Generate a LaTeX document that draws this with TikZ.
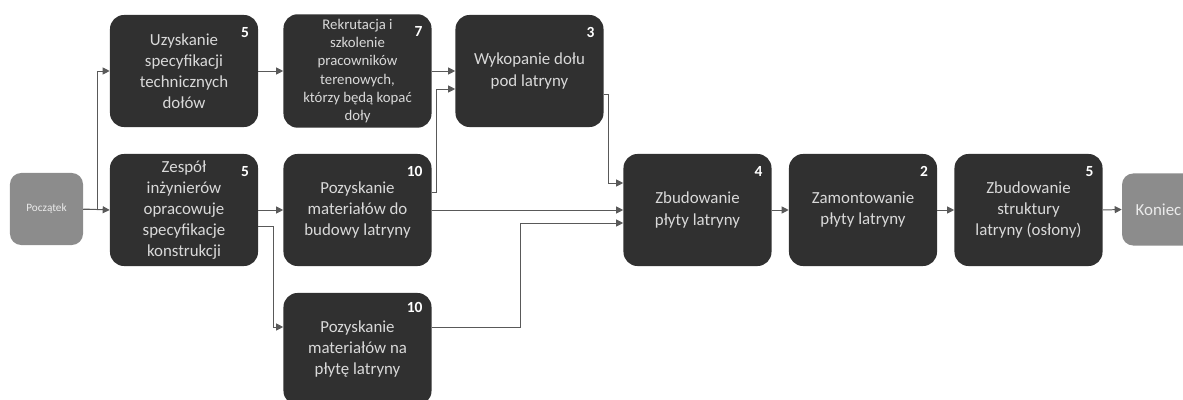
\documentclass[tikz,border=0pt]{standalone}
\usepackage{fontspec}
\setmainfont{Carlito}
\usetikzlibrary{arrows.meta,calc}

\begin{document}
\begin{tikzpicture}[
  x=0.025cm,
  y=-0.025cm,
  taskbox/.style={
    fill=black!81,
    rounded corners=10pt,
    minimum width=3.7cm,
    minimum height=2.8cm,
    text=black!15,
    align=center,
    font=\fontsize{12}{15}\selectfont
  },
  endbox/.style={
    fill=black!45,
    rounded corners=8pt,
    minimum width=1.825cm,
    minimum height=1.8cm,
    text=black!8,
    align=center
  },
  daystext/.style={
    anchor=north east,
    inner sep=0pt,
    text=white,
    font=\bfseries\fontsize{11}{13}\selectfont
  },
  link/.style={
    draw=black!65,
    line width=0.7pt,
    -{Triangle[length=5pt,width=5pt]}
  }
]

% Canvas, cut at the picture edge
\clip (0,0) rectangle (1183,400);

% Start and end
\node[endbox, font=\fontsize{8}{10}\selectfont] (start) at (46.5,209)
  {Początek};
\node[endbox, font=\fontsize{12}{15}\selectfont] (finish) at (1158.5,209.5)
  {Koniec};

% Upper row
\node[taskbox] (spec) at (184,71)
  {Uzyskanie\\ specyfikacji\\ technicznych\\ dołów};
\node[taskbox, font=\fontsize{10.5}{13}\selectfont] (staff) at (357.5,71)
  {Rekrutacja i\\ szkolenie\\ pracowników\\ terenowych,\\ którzy będą kopać\\ doły};
\node[taskbox] (pit) at (529.5,71)
  {Wykopanie dołu\\ pod latryny};

% Middle row
\node[taskbox] (design) at (184,210)
  {Zespół\\ inżynierów\\ opracowuje\\ specyfikacje\\ konstrukcji};
\node[taskbox] (buymat) at (357.5,210)
  {Pozyskanie\\ materiałów do\\ budowy latryny};
\node[taskbox] (slab) at (697.5,210)
  {Zbudowanie\\ płyty latryny};
\node[taskbox] (mount) at (863,210)
  {Zamontowanie\\ płyty latryny};
\node[taskbox] (shelter) at (1028.5,210)
  {Zbudowanie\\ struktury\\ latryny (osłony)};

% Lower row
\node[taskbox] (slabmat) at (357.5,349)
  {Pozyskanie\\ materiałów na\\ płytę latryny};

% Durations
\node[daystext] (specdays) at ($(spec.north east)+(-9,12)$) {5};
\node[daystext] (staffdays) at ($(staff.north east)+(-9,12)$) {7};
\node[daystext] (pitdays) at ($(pit.north east)+(-9,12)$) {3};
\node[daystext] (designdays) at ($(design.north east)+(-9,12)$) {5};
\node[daystext] (buymatdays) at ($(buymat.north east)+(-9,12)$) {10};
\node[daystext] (slabdays) at ($(slab.north east)+(-9,12)$) {4};
\node[daystext] (mountdays) at ($(mount.north east)+(-9,12)$) {2};
\node[daystext] (shelterdays) at ($(shelter.north east)+(-9,12)$) {5};
\node[daystext] (slabmatdays) at ($(slabmat.north east)+(-9,9)$) {10};

% Links
\draw[link] (start.east) -- (design.west);
\draw[link] (start.east) -- ++(14,0) |- (spec.west);
\draw[link] (spec.east) -- (staff.west);
\draw[link] (staff.east) -- (pit.west);
\draw[link] ($(buymat.east)+(0,-18)$) -- ++(5,0) |- ($(pit.west)+(0,18)$);
\draw[link] (design.east) -- (buymat.west);
\draw[link] ($(design.east)+(0,16)$) -- ++(15,0) |- ($(slabmat.west)+(0,-22)$);
\draw[link] (buymat.east) -- (slab.west);
\draw[link] ($(slabmat.east)+(0,-22)$) -- ++(89,0) |- ($(slab.west)+(0,13)$);
\draw[link] ($(pit.east)+(0,23)$) -- ++(5,0) |- ($(slab.west)+(0,-27)$);
\draw[link] (slab.east) -- (mount.west);
\draw[link] (mount.east) -- (shelter.west);
\draw[link] (shelter.east) -- (finish.west);

\end{tikzpicture}
\end{document}
